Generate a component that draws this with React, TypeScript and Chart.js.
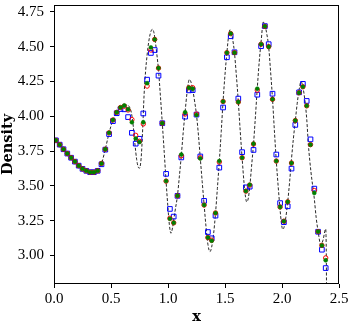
import React, { useEffect, useRef } from 'react';
import { Chart, registerables } from 'chart.js';

Chart.register(...registerables);

// cell-centre x positions of the markers
const cellX = [
  0.0167, 0.05, 0.0833, 0.1167, 0.15, 0.1833, 0.2167, 0.25, 0.2833, 0.3167,
  0.35, 0.3833, 0.4167, 0.45, 0.4833, 0.5167, 0.55, 0.5833, 0.6167, 0.65,
  0.6833, 0.7167, 0.75, 0.7833, 0.8167, 0.85, 0.8833, 0.9167, 0.95, 0.9833,
  1.0167, 1.05, 1.0833, 1.1167, 1.15, 1.1833, 1.2167, 1.25, 1.2833, 1.3167,
  1.35, 1.3833, 1.4167, 1.45, 1.4833, 1.5167, 1.55, 1.5833, 1.6167, 1.65,
  1.6833, 1.7167, 1.75, 1.7833, 1.8167, 1.85, 1.8833, 1.9167, 1.95, 1.9833,
  2.0167, 2.05, 2.0833, 2.1167, 2.15, 2.1833, 2.2167, 2.25, 2.2833, 2.3167,
  2.35, 2.3833,
];

const redValues = [
  3.827, 3.796, 3.763, 3.732, 3.702, 3.674, 3.645, 3.622, 3.608, 3.598,
  3.598, 3.608, 3.661, 3.763, 3.881, 3.973, 4.028, 4.063, 4.072, 4.045,
  3.976, 3.863, 3.82, 3.945, 4.217, 4.476, 4.552, 4.346, 3.95, 3.534,
  3.267, 3.234, 3.428, 3.716, 4.016, 4.205, 4.205, 4.016, 3.702, 3.362,
  3.128, 3.109, 3.305, 3.671, 4.106, 4.457, 4.594, 4.457, 4.102, 3.702,
  3.462, 3.505, 3.8, 4.188, 4.518, 4.646, 4.5, 4.122, 3.678, 3.348,
  3.246, 3.385, 3.664, 3.969, 4.169, 4.212, 4.075, 3.796, 3.466, 3.171,
  3.072, 2.982,
];

const greenValues = [
  3.827, 3.796, 3.763, 3.732, 3.702, 3.674, 3.645, 3.622, 3.608, 3.598,
  3.598, 3.608, 3.661, 3.763, 3.881, 3.973, 4.028, 4.063, 4.078, 4.05,
  3.957, 3.84, 3.815, 3.957, 4.238, 4.495, 4.552, 4.346, 3.95, 3.534,
  3.263, 3.234, 3.428, 3.725, 4.028, 4.205, 4.198, 4.009, 3.697, 3.362,
  3.128, 3.105, 3.305, 3.678, 4.106, 4.457, 4.594, 4.457, 4.102, 3.702,
  3.462, 3.508, 3.803, 4.198, 4.518, 4.646, 4.5, 4.122, 3.678, 3.348,
  3.246, 3.385, 3.664, 3.969, 4.169, 4.212, 4.075, 3.796, 3.449, 3.171,
  3.072, 2.965,
];

const blueValues = [
  3.827, 3.796, 3.763, 3.732, 3.702, 3.674, 3.645, 3.622, 3.608, 3.598,
  3.598, 3.608, 3.655, 3.76, 3.872, 3.965, 4.022, 4.052, 4.05, 3.994,
  3.881, 3.803, 3.838, 4.02, 4.263, 4.455, 4.476, 4.292, 3.95, 3.586,
  3.334, 3.279, 3.428, 3.704, 3.997, 4.186, 4.188, 4.012, 3.711, 3.392,
  3.168, 3.123, 3.286, 3.631, 4.063, 4.424, 4.575, 4.46, 4.127, 3.742,
  3.489, 3.494, 3.758, 4.155, 4.504, 4.648, 4.518, 4.162, 3.725, 3.376,
  3.239, 3.353, 3.624, 3.938, 4.172, 4.233, 4.11, 3.834, 3.48, 3.17,
  3.041, 2.909,
];

// reference (dashed) solution
const refX = [
  0.0, 0.0167, 0.05, 0.0833, 0.1167, 0.15, 0.1833, 0.2167, 0.25, 0.2833,
  0.3167, 0.35, 0.3833, 0.4167, 0.45, 0.4833, 0.5167, 0.55, 0.5833, 0.615,
  0.645, 0.665, 0.68, 0.695, 0.71, 0.725, 0.737, 0.748, 0.758, 0.768,
  0.779, 0.79, 0.803, 0.8167, 0.83, 0.845, 0.862, 0.877, 0.89, 0.903,
  0.917, 0.933, 0.95, 0.967, 0.983, 0.998, 1.012, 1.026, 1.04, 1.06,
  1.083, 1.1, 1.117, 1.133, 1.15, 1.167, 1.187, 1.202, 1.217, 1.233,
  1.25, 1.267, 1.283, 1.3, 1.317, 1.333, 1.35, 1.368, 1.383, 1.4,
  1.417, 1.433, 1.45, 1.467, 1.483, 1.5, 1.517, 1.532, 1.544, 1.556,
  1.567, 1.583, 1.6, 1.617, 1.633, 1.65, 1.667, 1.68, 1.69, 1.703,
  1.717, 1.733, 1.75, 1.767, 1.783, 1.8, 1.817, 1.836, 1.85, 1.867,
  1.883, 1.9, 1.917, 1.933, 1.95, 1.967, 1.983, 1.995, 2.006, 2.017,
  2.033, 2.05, 2.067, 2.083, 2.1, 2.117, 2.133, 2.15, 2.167, 2.183,
  2.2, 2.217, 2.231, 2.254, 2.283, 2.3, 2.319, 2.34, 2.36, 2.383,
  2.388, 2.392,
];
const refY = [
  3.835, 3.827, 3.796, 3.763, 3.732, 3.702, 3.674, 3.645, 3.622, 3.607,
  3.598, 3.596, 3.611, 3.66, 3.763, 3.881, 3.973, 4.028, 4.063, 4.083,
  4.08, 4.062, 4.02, 3.93, 3.8, 3.69, 3.64, 3.626, 3.65, 3.74,
  3.93, 4.15, 4.32, 4.44, 4.53, 4.595, 4.625, 4.6, 4.53, 4.44,
  4.33, 4.15, 3.95, 3.74, 3.534, 3.36, 3.22, 3.159, 3.2, 3.31,
  3.43, 3.57, 3.72, 3.88, 4.03, 4.17, 4.264, 4.245, 4.19, 4.11,
  4.01, 3.865, 3.7, 3.53, 3.362, 3.21, 3.08, 3.027, 3.06, 3.155,
  3.305, 3.48, 3.675, 3.89, 4.106, 4.3, 4.46, 4.58, 4.622, 4.6,
  4.555, 4.457, 4.29, 4.102, 3.9, 3.702, 3.52, 3.42, 3.385, 3.405,
  3.49, 3.64, 3.8, 4.0, 4.2, 4.39, 4.54, 4.677, 4.655, 4.59,
  4.5, 4.32, 4.122, 3.9, 3.678, 3.49, 3.33, 3.23, 3.187, 3.2,
  3.27, 3.385, 3.53, 3.69, 3.84, 3.969, 4.09, 4.19, 4.25, 4.21,
  4.12, 3.98, 3.8, 3.6, 3.41, 3.27, 3.16, 3.075, 3.11, 3.19,
  3.05, 2.6,
];

const xTicks = [0.0, 0.5, 1.0, 1.5, 2.0, 2.5];
const yTicks = [3.0, 3.25, 3.5, 3.75, 4.0, 4.25, 4.5, 4.75];

const xTitle = 'x';
const yTitle = 'Density';

const framePlugin = {
  id: 'frame',
  afterDatasetsDraw(chart: any) {
    const { ctx, chartArea } = chart;
    ctx.save();
    ctx.strokeStyle = '#000';
    ctx.lineWidth = 1;
    ctx.strokeRect(
      Math.round(chartArea.left) + 0.5,
      Math.round(chartArea.top) + 0.5,
      Math.round(chartArea.right - chartArea.left) - 1,
      Math.round(chartArea.bottom - chartArea.top) - 1
    );
    ctx.restore();
  },
};

export default function App() {
  const canvasRef = useRef<HTMLCanvasElement | null>(null);

  useEffect(() => {
    if (!canvasRef.current) return;
    const toPts = (xs: number[], ys: number[]) => xs.map((x, i) => ({ x, y: ys[i] }));
    const tickFont = { family: '"Liberation Serif", serif', size: 15 };
    const titleFont = { family: '"DejaVu Serif", serif', size: 14.5, weight: 'bold' as const, lineHeight: 1 };

    const chart = new Chart(canvasRef.current, {
      type: 'scatter',
      data: {
        datasets: [
          {
            label: 'green',
            data: toPts(cellX, greenValues),
            pointStyle: 'circle',
            pointRadius: 2,
            pointBackgroundColor: '#008000',
            pointBorderColor: '#008000',
            pointBorderWidth: 0.5,
            showLine: false,
          },
          {
            label: 'red',
            data: toPts(cellX, redValues),
            pointStyle: 'circle',
            pointRadius: 2.2,
            pointBackgroundColor: 'rgba(255,255,255,0)',
            pointBorderColor: '#ff0000',
            pointBorderWidth: 1,
            showLine: false,
          },
          {
            label: 'blue',
            data: toPts(cellX, blueValues),
            pointStyle: 'rect',
            pointRadius: 3.3,
            pointBackgroundColor: 'rgba(255,255,255,0)',
            pointBorderColor: '#0000ff',
            pointBorderWidth: 1,
            showLine: false,
          },
          {
            label: 'reference',
            data: toPts(refX, refY),
            showLine: true,
            pointRadius: 0,
            borderColor: '#111',
            borderWidth: 0.9,
            borderDash: [3, 1.8],
            cubicInterpolationMode: 'monotone',
            fill: false,
          } as any,
        ],
      },
      options: {
        animation: false,
        responsive: false,
        devicePixelRatio: 1,
        layout: { padding: { top: 1, right: 10, left: 0, bottom: 0 } },
        plugins: {
          legend: { display: false },
          tooltip: { enabled: false },
        },
        scales: {
          x: {
            type: 'linear',
            min: 0,
            max: 2.5,
            afterBuildTicks: (scale: any) => {
              scale.ticks = xTicks.map((v) => ({ value: v }));
            },
            afterFit: (scale: any) => {
              scale.height = 41;
              scale.paddingLeft = 0;
              scale.paddingRight = 0;
              scale.paddingTop = 0;
              scale.paddingBottom = 0;
            },
            grid: {
              drawOnChartArea: false,
              drawTicks: true,
              tickLength: 4,
              color: '#000',
              lineWidth: 1,
            },
            border: { display: false },
            ticks: {
              autoSkip: false,
              maxRotation: 0,
              padding: 2,
              color: '#000',
              font: tickFont,
              callback: (v: any) => Number(v).toFixed(1),
            },
            title: {
              display: true,
              text: xTitle,
              color: '#000',
              font: titleFont,
              padding: { top: 0, bottom: 1 },
            },
          },
          y: {
            type: 'linear',
            min: 2.7945,
            max: 4.7996,
            afterBuildTicks: (scale: any) => {
              scale.ticks = yTicks.map((v) => ({ value: v }));
            },
            afterFit: (scale: any) => {
              scale.width = 54;
              scale.paddingLeft = 0;
              scale.paddingRight = 0;
              scale.paddingTop = 0;
              scale.paddingBottom = 0;
            },
            grid: {
              drawOnChartArea: false,
              drawTicks: true,
              tickLength: 4,
              color: '#000',
              lineWidth: 1,
            },
            border: { display: false },
            ticks: {
              autoSkip: false,
              padding: 6,
              color: '#000',
              font: tickFont,
              callback: (v: any) => Number(v).toFixed(2),
            },
            title: {
              display: true,
              text: yTitle,
              color: '#000',
              font: titleFont,
              padding: { top: 1, bottom: 0 },
            },
          },
        },
      },
      plugins: [framePlugin],
    });
    return () => chart.destroy();
  }, []);

  return (
    <div style={{ position: 'absolute', left: 0, top: 0, width: 349, height: 325, background: '#fff' }}>
      <canvas ref={canvasRef} width={349} height={325} style={{ display: 'block' }} />
    </div>
  );
}
